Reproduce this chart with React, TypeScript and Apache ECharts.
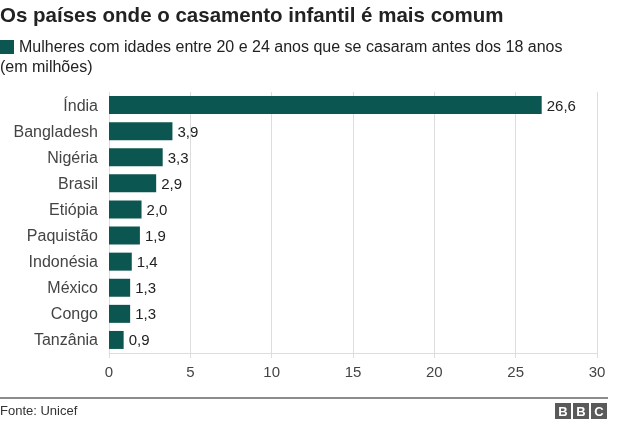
import React, { useEffect, useRef } from "react";
import * as echarts from "echarts";

const categories = ["Índia", "Bangladesh", "Nigéria", "Brasil", "Etiópia", "Paquistão", "Indonésia", "México", "Congo", "Tanzânia"];
const values = [26.6, 3.9, 3.3, 2.9, 2.0, 1.9, 1.4, 1.3, 1.3, 0.9];
const xTicks = [0, 5, 10, 15, 20, 25, 30];

const FONT = "Liberation Sans, Arial, sans-serif";
const BAR = "#0c5651";

export default function App() {
  const ref = useRef<HTMLDivElement>(null);
  useEffect(() => {
    const chart = echarts.init(ref.current!, null, { renderer: "svg" });
    chart.setOption({
      animation: false,
      textStyle: { fontFamily: FONT },
      grid: { left: 109, right: 43, top: 92, bottom: 69, containLabel: false },
      xAxis: {
        type: "value",
        min: xTicks[0],
        max: xTicks[xTicks.length - 1],
        interval: 5,
        axisLine: { show: true, lineStyle: { color: "#dddddd", width: 1 } },
        axisTick: { show: true, length: 5, lineStyle: { color: "#dddddd" } },
        splitLine: { show: true, lineStyle: { color: "#dddddd", width: 1 } },
        axisLabel: { color: "#444", fontSize: 15, margin: 11, fontFamily: FONT },
      },
      yAxis: {
        type: "category",
        data: categories,
        inverse: true,
        axisLine: { show: false },
        axisTick: { show: false },
        axisLabel: { color: "#444", fontSize: 16, margin: 11, fontFamily: FONT },
      },
      series: [
        {
          type: "bar",
          data: values,
          barWidth: 18,
          itemStyle: { color: BAR },
          label: {
            show: true,
            position: "right",
            distance: 5,
            color: "#222",
            fontSize: 15,
            fontFamily: FONT,
            formatter: (p: any) => p.value.toFixed(1).replace(".", ","),
          },
        },
      ],
      graphic: [
        {
          type: "text",
          left: 0,
          top: 4,
          style: { text: "Os países onde o casamento infantil é mais comum", fontSize: 20.5, fontWeight: "bold", fill: "#222", fontFamily: FONT },
        },
        { type: "rect", shape: { x: 0, y: 40, width: 14, height: 14 }, style: { fill: BAR } },
        {
          type: "text",
          left: 19,
          top: 38,
          style: { text: "Mulheres com idades entre 20 e 24 anos que se casaram antes dos 18 anos", fontSize: 16, fill: "#222", fontFamily: FONT },
        },
        {
          type: "text",
          left: 0,
          top: 58,
          style: { text: "(em milhões)", fontSize: 16, fill: "#222", fontFamily: FONT },
        },
        { type: "line", shape: { x1: 0, y1: 398, x2: 608, y2: 398 }, style: { stroke: "#666", lineWidth: 1.5 } },
        {
          type: "text",
          left: 0,
          top: 404,
          style: { text: "Fonte: Unicef", fontSize: 13, fill: "#333", fontFamily: FONT },
        },
        ...["B", "B", "C"].map((l, i) => ({
          type: "group",
          x: 555 + i * 18,
          y: 403,
          children: [
            { type: "rect", shape: { x: 0, y: 0, width: 16, height: 16 }, style: { fill: "#5a5a5a" } },
            { type: "text", x: 8, y: 8.5, style: { text: l, fontSize: 13, fontWeight: "bold", fill: "#fff", align: "center", verticalAlign: "middle", fontFamily: FONT } },
          ],
        })),
      ],
    });
    return () => chart.dispose();
  }, []);
  return <div ref={ref} style={{ position: "fixed", left: 0, top: 0, width: 640, height: 422 }} />;
}
